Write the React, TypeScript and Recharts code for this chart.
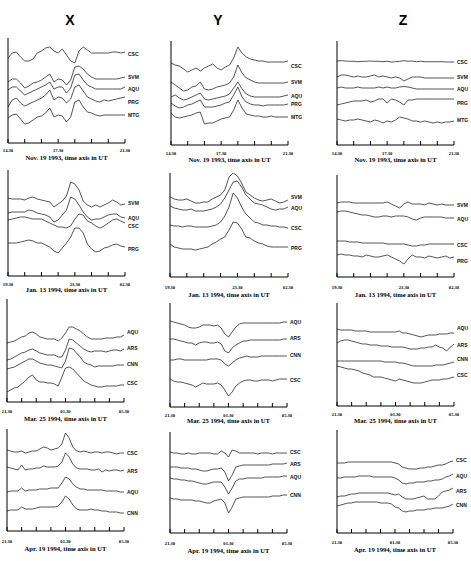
import React from 'react';
import { LineChart, Line, XAxis, YAxis, ReferenceDot } from 'recharts';

const SERIF = "'Liberation Serif','Times New Roman',serif";
const SANS = "'Liberation Sans',Arial,sans-serif";

// time grids (hours since start of window)
const HOURS7 = [0, 0.25, 0.5, 0.75, 1, 1.25, 1.5, 1.75, 2, 2.25, 2.5, 2.75, 3, 3.25, 3.5, 3.75, 4, 4.25, 4.5, 4.75, 5, 5.25, 5.5, 5.75, 6, 6.25, 6.5, 6.75, 7];
const HOURS8 = [0, 0.25, 0.5, 0.75, 1, 1.25, 1.5, 1.75, 2, 2.25, 2.5, 2.75, 3, 3.25, 3.5, 3.75, 4, 4.25, 4.5, 4.75, 5, 5.25, 5.5, 5.75, 6, 6.25, 6.5, 6.75, 7, 7.25, 7.5, 7.75, 8];
const TICKS7 = [0, 1, 2, 3, 4, 5, 6, 7];
const TICKS8 = [0, 1, 2, 3, 4, 5, 6, 7, 8];

const NOV_TICK_LABELS: Record<number, string> = { 0: '14.30', 3: '17.30', 7: '21.30' };
const JAN_TICK_LABELS: Record<number, string> = { 0: '19.30', 4: '23.30', 7: '02.30' };
const MAR_TICK_LABELS: Record<number, string> = { 0: '21.30', 4: '01.30', 8: '05.30' };

const COMPONENTS = ['X', 'Y', 'Z'];
const CAPTIONS = [
  'Nov. 19 1993, time axis in UT',
  'Jan. 13 1994, time axis in UT',
  'Mar. 25 1994, time axis in UT',
  'Apr. 19 1994, time axis in UT',
];

// ---- Nov 19 1993 ----
const NOV_STATIONS = ['CSC', 'SVM', 'AQU', 'PRG', 'MTG'];
const NOV_X_CSC = [85, 90, 91, 86, 82, 82, 84, 90, 92, 95, 96, 92, 90, 94, 88, 82, 80, 92, 96, 93, 90, 90, 90, 90, 90, 91, 91, 90, 91];
const NOV_X_SVM = [61, 64, 64, 60, 55, 57, 60, 61, 63, 66, 69, 61, 64, 63, 58, 63, 76, 77, 74, 69, 66, 64, 64, 64, 64, 64, 64, 65, 66];
const NOV_X_AQU = [53, 56, 56, 52, 48, 50, 52, 54, 56, 58, 61, 54, 56, 56, 50, 55, 68, 69, 63, 58, 56, 54, 54, 54, 54, 54, 54, 54, 56];
const NOV_X_PRG = [36, 43, 45, 40, 37, 39, 41, 43, 45, 48, 53, 43, 46, 45, 40, 44, 56, 58, 52, 46, 44, 42, 41, 43, 42, 43, 44, 45, 46];
const NOV_X_MTG = [25, 28, 29, 24, 19, 20, 23, 26, 27, 30, 35, 26, 28, 27, 21, 26, 41, 43, 36, 31, 30, 28, 27, 28, 28, 28, 28, 28, 28];
const NOV_X_LABELS = [89, 66, 54, 41, 28];

const NOV_Y_CSC = [82, 80, 79, 76, 73, 75, 77, 74, 77, 79, 81, 77, 75, 78, 80, 87, 98, 92, 88, 86, 85, 84, 84, 83, 83, 83, 83, 83, 84];
const NOV_Y_SVM = [63, 60, 57, 54, 55, 58, 59, 63, 56, 55, 56, 58, 59, 60, 62, 68, 80, 72, 67, 65, 63, 62, 62, 62, 62, 62, 62, 62, 63];
const NOV_Y_AQU = [48, 50, 47, 45, 46, 48, 50, 52, 46, 45, 46, 47, 48, 49, 51, 57, 63, 56, 51, 49, 48, 48, 48, 48, 48, 48, 48, 49, 50];
const NOV_Y_PRG = [42, 39, 37, 38, 40, 41, 43, 45, 38, 38, 38, 39, 40, 42, 43, 50, 58, 48, 43, 41, 40, 40, 39, 40, 40, 40, 40, 40, 41];
const NOV_Y_MTG = [32, 28, 27, 28, 29, 30, 32, 33, 21, 22, 22, 24, 26, 27, 28, 35, 45, 37, 31, 30, 29, 29, 28, 28, 29, 28, 28, 28, 28];
const NOV_Y_LABELS = [79, 63, 49, 41, 28];

const NOV_Z_CSC = [84, 84.3, 84, 83.7, 83.7, 83.3, 83.7, 83.7, 84, 83.7, 83.7, 83.3, 83.7, 83, 83.3, 83.7, 84.3, 83.7, 84, 83.3, 83.7, 83.3, 83.3, 83.3, 83.3, 83.3, 83, 83, 83];
const NOV_Z_SVM = [68, 70, 70, 69, 68, 69, 68, 68, 69, 70, 68, 69, 68, 67, 68, 67, 64, 66, 68, 68, 68, 67, 67, 67, 67, 67, 67, 67, 67];
const NOV_Z_AQU = [57, 58, 57, 57, 57, 58, 57, 57, 57, 57, 58, 57, 58, 57, 57, 58, 58.5, 58, 57, 56, 56, 56, 56, 56, 56, 56, 56, 56, 56];
const NOV_Z_PRG = [40, 41, 42, 43, 44, 44, 44, 45, 43, 44, 46, 46, 42, 46, 45, 43, 40, 45, 45, 46, 46, 46, 46, 46, 46, 46, 46, 46, 46];
const NOV_Z_MTG = [26, 25, 24, 25, 25, 26, 25, 24, 23, 25, 24, 22, 24, 23, 25, 28, 27, 26, 24, 24, 23, 24, 23, 22, 23, 22, 23, 23, 24];
const NOV_Z_LABELS = [83, 68, 56, 42, 25];

// ---- Jan 13 1994 ----
const JAN_STATIONS = ['SVM', 'AQU', 'CSC', 'PRG'];
const JAN_X_SVM = [78, 77, 77, 77, 76, 78, 79, 77, 76, 75, 74, 69, 72, 75, 80, 94, 92, 86, 75, 71, 69, 71, 69, 71, 73, 76, 74, 71, 72];
const JAN_X_AQU = [63, 64, 64, 64, 64, 66, 65, 63, 62, 61, 59, 54, 56, 61, 66, 79, 77, 71, 64, 59, 56, 57, 57, 59, 61, 62, 62, 59, 58];
const JAN_X_CSC = [56, 57, 58, 59, 59, 58, 57, 57, 57, 55, 53, 51, 49, 49, 48, 50, 57, 62, 61, 55, 53, 50, 48, 50, 53, 56, 57, 55, 53];
const JAN_X_PRG = [33, 33, 33, 34, 35, 36, 35, 33, 33, 31, 29, 25, 23, 28, 33, 39, 48, 48, 43, 32, 27, 24, 25, 28, 29, 31, 32, 30, 29];
const JAN_X_LABELS = [73, 58, 50, 27];

const JAN_Y_SVM = [80, 78, 77, 77, 78, 76, 74, 74, 75, 75, 78, 80, 82, 87, 100, 104, 101, 94, 85, 82, 79, 77, 76, 77, 78, 76, 74, 75, 77];
const JAN_Y_AQU = [71, 69, 68, 67, 67, 68, 66, 66, 66, 67, 68, 70, 73, 79, 87, 95, 96, 90, 82, 78, 74, 73, 72, 70, 68, 67, 68, 68, 70];
const JAN_Y_CSC = [52, 51, 51, 50, 51, 51, 50, 50, 50, 50, 51, 52, 55, 61, 70, 84, 79, 70, 63, 59, 55, 54, 52, 52, 51, 51, 50, 50, 49];
const JAN_Y_PRG = [33, 30, 29, 28, 28, 28, 27, 28, 29, 30, 33, 35, 38, 40, 47, 55, 54, 48, 40, 39, 36, 34, 33, 31, 30, 30, 30, 30, 30];
const JAN_Y_LABELS = [80, 69, 49, 29];

const JAN_Z_SVM = [74, 75, 75, 75, 74, 74, 74, 74, 74, 74, 74, 74, 75, 73, 71, 69, 73, 75, 73, 73, 73, 72, 74, 73, 72, 73, 72, 72, 72];
const JAN_Z_AQU = [65, 66, 66, 65, 64, 63, 62, 62, 61, 60, 60, 61, 61, 60, 61, 61, 61, 60, 58, 57, 59, 60, 60, 60, 60, 60, 59, 59, 59];
const JAN_Z_CSC = [36, 36, 36, 35, 35, 35, 34, 34, 34, 34, 34, 34, 33, 33, 33, 33, 33, 32, 31, 31, 32, 32, 33, 33, 33, 33, 33, 33, 33];
const JAN_Z_PRG = [22, 23, 22, 22, 21, 21, 20, 22, 21, 20, 20, 21, 22, 20, 18, 16, 13, 18, 22, 20, 20, 19, 21, 20, 19, 20, 21, 19, 20];
const JAN_Z_LABELS = [72, 58, 32, 16];

// ---- Mar 25 1994 ----
const MAR_STATIONS = ['AQU', 'ARS', 'CNN', 'CSC'];
const MAR_X_AQU = [59, 60, 61, 63, 65, 66, 69, 70, 68, 65, 64, 63, 63, 63, 61, 64, 69, 75, 75, 73, 71, 68, 65, 63, 63, 63, 63, 64, 64, 64, 65, 65, 67];
const MAR_X_ARS = [42, 43, 45, 47, 49, 50, 52, 53, 51, 49, 48, 47, 47, 47, 45, 45, 52, 63, 62, 59, 56, 53, 51, 50, 51, 51, 51, 50, 51, 52, 52, 51, 53];
const MAR_X_CNN = [33, 34, 35, 37, 39, 41, 43, 43, 41, 39, 38, 37, 37, 36, 35, 34, 41, 54, 53, 49, 45, 40, 38, 37, 35, 36, 36, 36, 36, 36, 37, 37, 37];
const MAR_X_CSC = [10, 12, 14, 15, 18, 21, 25, 27, 22, 20, 20, 19, 19, 18, 16, 25, 34, 35, 33, 29, 25, 21, 19, 17, 16, 15, 15, 16, 16, 16, 16, 17, 17];
const MAR_X_LABELS = [70, 54, 38, 19];

const MAR_Y_AQU = [86, 85, 84, 83, 82, 80, 79, 79, 80, 82, 82, 82, 81, 82, 79, 73, 70, 75, 80, 83, 84, 84, 84, 84, 84, 84, 84, 84, 84, 84, 84, 85, 85];
const MAR_Y_ARS = [68, 68, 67, 66, 65, 64, 64, 62, 64, 65, 65, 64, 64, 65, 63, 56, 54, 59, 62, 64, 66, 66, 67, 67, 67, 67, 67, 67, 67, 67, 67, 68, 68];
const MAR_Y_CNN = [47, 47, 48, 48, 47, 47, 47, 47, 47, 47, 47, 48, 48, 48, 47, 43, 41, 44, 47, 49, 50, 51, 50, 50, 50, 51, 51, 51, 51, 51, 51, 51, 51];
const MAR_Y_CSC = [28, 26, 25, 25, 24, 23, 22, 20, 22, 24, 23, 23, 23, 24, 22, 17, 11, 15, 21, 24, 26, 27, 27, 26, 26, 27, 27, 27, 26, 27, 28, 28, 28];
const MAR_Y_LABELS = [85, 69, 52, 27];

const MAR_Z_AQU = [77, 76, 76, 76, 76, 75, 75, 75, 75, 74, 74, 74, 74, 74, 74, 74, 74, 75, 73, 73, 72, 71, 70, 69, 70, 71, 71, 71, 72, 72, 72, 73, 73];
const MAR_Z_ARS = [63, 65, 66, 66, 65, 64, 63, 62, 62, 61, 61, 61, 60, 60, 60, 59, 59, 59, 59, 58, 57, 57, 57, 58, 58, 59, 59, 61, 59, 58, 55, 59, 62];
const MAR_Z_CNN = [45, 45, 45, 45, 45, 45, 45, 45, 45, 45, 45, 45, 45, 44, 44, 44, 44, 43, 43, 42, 41, 40, 40, 40, 40, 40, 40, 41, 41, 41, 42, 43, 44];
const MAR_Z_CSC = [40, 39, 38, 37, 37, 36, 35, 33, 32, 31, 29, 29, 29, 28, 27, 26, 25, 27, 26, 25, 24, 23, 23, 23, 24, 25, 26, 26, 26, 27, 27, 28, 29];
const MAR_Z_LABELS = [78, 61, 47, 31];

// ---- Apr 19 1994 ----
const APR_X_STATIONS = ['CSC', 'ARS', 'AQU', 'CNN'];
const APR_X_CSC = [81, 80, 79, 79, 80, 78, 79, 80, 80, 82, 84, 83, 81, 82, 83, 87, 98, 93, 84, 80, 79, 80, 79, 78, 79, 79, 78, 79, 79, 78, 77, 78, 78];
const APR_X_ARS = [64, 63, 62, 61, 66, 61, 62, 62, 63, 63, 65, 64, 64, 64, 65, 69, 78, 74, 67, 63, 62, 62, 62, 61, 61, 62, 59, 61, 60, 61, 61, 60, 61];
const APR_X_AQU = [39, 40, 40, 40, 43, 40, 41, 41, 41, 42, 42, 42, 43, 43, 43, 48, 54, 52, 47, 44, 42, 42, 41, 41, 41, 41, 41, 40, 40, 40, 40, 39, 39];
const APR_X_CNN = [20, 21, 21, 21, 24, 22, 22, 22, 23, 24, 24, 24, 24, 24, 25, 29, 35, 32, 26, 22, 21, 21, 21, 22, 21, 21, 20, 20, 19, 19, 19, 18, 18];
const APR_X_LABELS = [78, 60, 39, 18];

const APR_Y_STATIONS = ['CSC', 'ARS', 'AQU', 'CNN'];
const APR_Y_CSC = [81, 80, 80, 79, 79, 80, 79, 79, 80, 80, 80, 80, 79, 79, 82, 80, 76, 83, 82, 80, 80, 80, 80, 80, 79, 80, 80, 80, 79, 80, 80, 80, 80];
const APR_Y_ARS = [66, 66, 66, 65, 65, 65, 64, 64, 63, 62, 62, 63, 64, 64, 65, 61, 52, 58, 66, 67, 68, 68, 68, 68, 68, 68, 68, 68, 69, 69, 69, 69, 70];
const APR_Y_AQU = [55, 54, 54, 53, 53, 52, 52, 51, 50, 49, 49, 50, 51, 51, 51, 46, 39, 45, 52, 54, 54, 55, 55, 55, 55, 55, 56, 56, 56, 56, 56, 57, 57];
const APR_Y_CNN = [35, 34, 34, 33, 33, 33, 33, 32, 32, 31, 30, 30, 32, 33, 34, 30, 20, 26, 34, 35, 36, 36, 36, 36, 36, 36, 36, 36, 37, 37, 37, 38, 38];
const APR_Y_LABELS = [81, 69, 56, 38];

const APR_Z_STATIONS = ['CSC', 'AQU', 'ARS', 'CNN'];
const APR_Z_CSC = [70, 70, 70, 71, 71, 71, 71, 71, 71, 71, 71, 71, 71, 71, 71, 71, 70, 69, 66, 65, 64, 64, 64, 65, 65, 66, 66, 67, 68, 68, 69, 71, 72];
const APR_Z_AQU = [55, 55, 56, 56, 56, 56, 57, 57, 57, 57, 56, 56, 56, 56, 56, 56, 55, 53, 50, 49, 50, 50, 51, 51, 51, 52, 52, 53, 53, 54, 56, 57, 59];
const APR_Z_ARS = [36, 37, 37, 38, 39, 39, 40, 40, 40, 40, 40, 40, 40, 40, 40, 39, 38, 39, 36, 34, 34, 34, 35, 36, 37, 34, 34, 34, 37, 41, 42, 43, 45];
const APR_Z_CNN = [27, 28, 29, 30, 30, 31, 31, 31, 31, 31, 31, 31, 30, 30, 30, 29, 26, 25, 22, 21, 22, 22, 23, 23, 23, 24, 24, 25, 25, 25, 26, 27, 29];
const APR_Z_LABELS = [73, 57, 42, 28];

type PanelCfg = {
  left: number; right: number; top: number; bottom: number;
  times: number[]; ticks: number[]; tickLabels: Record<number, string>;
  yTicks: number[]; stations: string[]; series: number[][]; labelValues: number[];
  tickDy: number; captionY: number; caption: string;
};

const PANELS: PanelCfg[] = [
  { left: 8, right: 125, top: 38, bottom: 143, times: HOURS7, ticks: TICKS7, tickLabels: NOV_TICK_LABELS, yTicks: [105, 79, 53, 27], stations: NOV_STATIONS, series: [NOV_X_CSC, NOV_X_SVM, NOV_X_AQU, NOV_X_PRG, NOV_X_MTG], labelValues: NOV_X_LABELS, tickDy: 7, captionY: 159.5, caption: CAPTIONS[0] },
  { left: 171, right: 288, top: 41, bottom: 145, times: HOURS7, ticks: TICKS7, tickLabels: NOV_TICK_LABELS, yTicks: [104, 83, 63, 43, 22], stations: NOV_STATIONS, series: [NOV_Y_CSC, NOV_Y_SVM, NOV_Y_AQU, NOV_Y_PRG, NOV_Y_MTG], labelValues: NOV_Y_LABELS, tickDy: 8, captionY: 161.5, caption: CAPTIONS[0] },
  { left: 337, right: 454, top: 41, bottom: 145, times: HOURS7, ticks: TICKS7, tickLabels: NOV_TICK_LABELS, yTicks: [104, 78, 53, 27], stations: NOV_STATIONS, series: [NOV_Z_CSC, NOV_Z_SVM, NOV_Z_AQU, NOV_Z_PRG, NOV_Z_MTG], labelValues: NOV_Z_LABELS, tickDy: 8, captionY: 161.5, caption: CAPTIONS[0] },

  { left: 8, right: 125, top: 170, bottom: 276, times: HOURS7, ticks: TICKS7, tickLabels: JAN_TICK_LABELS, yTicks: [106, 80, 54, 28], stations: JAN_STATIONS, series: [JAN_X_SVM, JAN_X_AQU, JAN_X_CSC, JAN_X_PRG], labelValues: JAN_X_LABELS, tickDy: 8, captionY: 292, caption: CAPTIONS[1] },
  { left: 170, right: 288, top: 173, bottom: 277, times: HOURS7, ticks: TICKS7, tickLabels: JAN_TICK_LABELS, yTicks: [104, 76, 51, 24], stations: JAN_STATIONS, series: [JAN_Y_SVM, JAN_Y_AQU, JAN_Y_CSC, JAN_Y_PRG], labelValues: JAN_Y_LABELS, tickDy: 10, captionY: 297, caption: CAPTIONS[1] },
  { left: 337, right: 454, top: 175, bottom: 277, times: HOURS7, ticks: TICKS7, tickLabels: JAN_TICK_LABELS, yTicks: [102, 51], stations: JAN_STATIONS, series: [JAN_Z_SVM, JAN_Z_AQU, JAN_Z_CSC, JAN_Z_PRG], labelValues: JAN_Z_LABELS, tickDy: 10, captionY: 297, caption: CAPTIONS[1] },

  { left: 7, right: 124, top: 299, bottom: 402, times: HOURS8, ticks: TICKS8, tickLabels: MAR_TICK_LABELS, yTicks: [103, 69, 34], stations: MAR_STATIONS, series: [MAR_X_AQU, MAR_X_ARS, MAR_X_CNN, MAR_X_CSC], labelValues: MAR_X_LABELS, tickDy: 9, captionY: 421, caption: CAPTIONS[2] },
  { left: 170, right: 287, top: 303, bottom: 407, times: HOURS8, ticks: TICKS8, tickLabels: MAR_TICK_LABELS, yTicks: [104, 84, 64, 42, 21], stations: MAR_STATIONS, series: [MAR_Y_AQU, MAR_Y_ARS, MAR_Y_CNN, MAR_Y_CSC], labelValues: MAR_Y_LABELS, tickDy: 8, captionY: 423, caption: CAPTIONS[2] },
  { left: 337, right: 454, top: 303, bottom: 406, times: HOURS8, ticks: TICKS8, tickLabels: MAR_TICK_LABELS, yTicks: [103, 53], stations: MAR_STATIONS, series: [MAR_Z_AQU, MAR_Z_ARS, MAR_Z_CNN, MAR_Z_CSC], labelValues: MAR_Z_LABELS, tickDy: 8, captionY: 423, caption: CAPTIONS[2] },

  { left: 7, right: 124, top: 429, bottom: 531, times: HOURS8, ticks: TICKS8, tickLabels: MAR_TICK_LABELS, yTicks: [102, 82, 61, 40, 20], stations: APR_X_STATIONS, series: [APR_X_CSC, APR_X_ARS, APR_X_AQU, APR_X_CNN], labelValues: APR_X_LABELS, tickDy: 10, captionY: 550.5, caption: CAPTIONS[3] },
  { left: 170, right: 287, top: 432, bottom: 533, times: HOURS8, ticks: TICKS8, tickLabels: MAR_TICK_LABELS, yTicks: [101, 81, 60, 40, 20], stations: APR_Y_STATIONS, series: [APR_Y_CSC, APR_Y_ARS, APR_Y_AQU, APR_Y_CNN], labelValues: APR_Y_LABELS, tickDy: 10, captionY: 552.5, caption: CAPTIONS[3] },
  { left: 337, right: 453, top: 430, bottom: 533, times: HOURS8, ticks: TICKS8, tickLabels: MAR_TICK_LABELS, yTicks: [103, 51], stations: APR_Z_STATIONS, series: [APR_Z_CSC, APR_Z_AQU, APR_Z_ARS, APR_Z_CNN], labelValues: APR_Z_LABELS, tickDy: 9, captionY: 551.5, caption: CAPTIONS[3] },
];

const TITLE_POS = [70, 218, 403];

function makeTick(labels: Record<number, string>, dy: number) {
  return (props: any) => {
    const { x, y, payload } = props;
    const lab = labels[payload.value];
    return (
      <g>
        <line x1={x} y1={y} x2={x} y2={y - 4} stroke="#000" strokeWidth={1} />
        {lab ? (
          <text x={x} y={y + dy + 1.5} textAnchor="middle" fontSize={4.6} fontWeight={700} fontFamily={SERIF} fill="#000">
            {lab}
          </text>
        ) : null}
      </g>
    );
  };
}

function Panel({ cfg }: { cfg: PanelCfg }) {
  const { left, right, top, bottom, times, ticks, tickLabels, yTicks, stations, series, labelValues, tickDy } = cfg;
  const H = bottom - top;
  const hours = times[times.length - 1];
  const data = times.map((t, i) => {
    const row: Record<string, number> = { t };
    stations.forEach((s, j) => { row[s] = series[j][i]; });
    return row;
  });
  const width = right - left + 8 + 26;
  const height = H + 29;
  return (
    <div style={{ position: 'absolute', left: left - 8, top: top - 5, width, height }}>
      <LineChart width={width} height={height} data={data} margin={{ top: 5, right: 26, bottom: 2, left: 2 }}>
        <XAxis
          type="number" dataKey="t" domain={[0, hours]} ticks={ticks} interval={0}
          allowDataOverflow tickLine={false} tickSize={0} tickMargin={0} height={22}
          axisLine={{ stroke: '#000', strokeWidth: 1 }} tick={makeTick(tickLabels, tickDy)}
        />
        <YAxis
          type="number" domain={[0, H]} ticks={yTicks} interval={0} allowDataOverflow
          tick={false} tickSize={4} width={6}
          tickLine={{ stroke: '#000', strokeWidth: 1 }} axisLine={{ stroke: '#000', strokeWidth: 1 }}
        />
        {stations.map((s) => (
          <Line key={s} type="linear" dataKey={s} stroke="#2a2a2a" strokeWidth={0.8} dot={false} activeDot={false} isAnimationActive={false} />
        ))}
        {stations.map((s, j) => (
          <ReferenceDot
            key={'lab' + s} x={hours} y={labelValues[j]} r={0} ifOverflow="visible"
            fill="none" stroke="none"
            label={{ value: s, position: 'right', offset: 3, fontSize: 5, fontWeight: 700, fontFamily: SANS, fill: '#111' }}
          />
        ))}
      </LineChart>
    </div>
  );
}

export default function App() {
  return (
    <div style={{ position: 'absolute', left: 0, top: 0, width: 471, height: 561, background: '#fff', overflow: 'hidden' }}>
      <svg width={471} height={561} style={{ position: 'absolute', left: 0, top: 0 }}>
        {COMPONENTS.map((c, i) => (
          <text key={c} x={TITLE_POS[i]} y={25} textAnchor="middle" fontSize={14} fontWeight={700} fontFamily={SANS} fill="#000">{c}</text>
        ))}
        {PANELS.map((p, i) => (
          <text key={'cap' + i} x={(p.left + p.right) / 2} y={p.captionY} textAnchor="middle" fontSize={6.6} fontWeight={700} fontFamily={SERIF} fill="#000">{p.caption}</text>
        ))}
      </svg>
      {PANELS.map((p, i) => <Panel key={i} cfg={p} />)}
    </div>
  );
}
